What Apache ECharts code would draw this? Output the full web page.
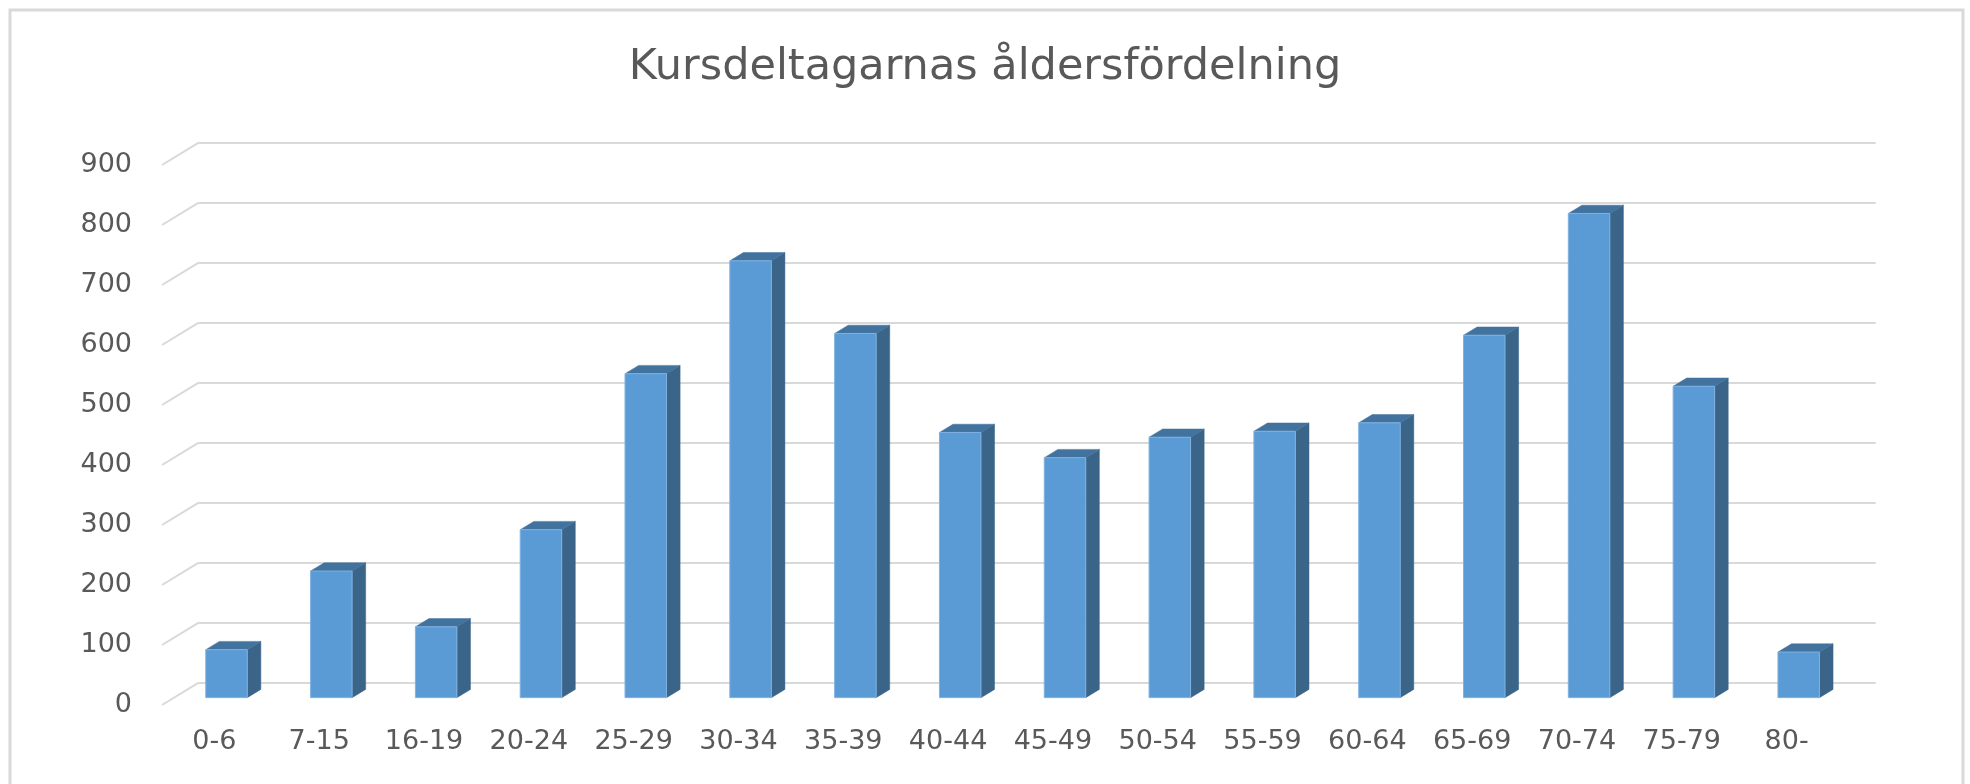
<!DOCTYPE html>
<html>
<head>
<meta charset="utf-8">
<script src="https://cdn.jsdelivr.net/npm/echarts@6/dist/echarts.min.js"></script>
<style>html,body{margin:0;padding:0;background:#fff}#c{width:1970px;height:784px}</style>
</head>
<body>
<div id="c"></div>
<script>
const chartTitle = 'Kursdeltagarnas åldersfördelning';
const categories = ['0-6','7-15','16-19','20-24','25-29','30-34','35-39','40-44','45-49','50-54','55-59','60-64','65-69','70-74','75-79','80-'];
const values = [80, 211, 118, 280, 540, 728, 607, 442, 400, 434, 444, 458, 604, 807, 519, 76];
const yTicks = [0, 100, 200, 300, 400, 500, 600, 700, 800, 900];

const FONT = 'DejaVu Sans';
const TXT = '#595959';
const GRID = '#d9d9d9';
// oblique depth of the floor (front edge -> back wall), in px
const DEPTH_DX = 36.7, DEPTH_DY = -22.3;
const BAR_FRONT = 0.33, BAR_BACK = 0.70;

const chart = echarts.init(document.getElementById('c'), null, {renderer: 'canvas'});

const option = {
  backgroundColor: '#fff',
  animation: false,
  title: {
    text: chartTitle, left: 'center', top: 41,
    textStyle: {fontFamily: FONT, fontSize: 43, fontWeight: 'normal', color: TXT}
  },
  graphic: [{
    type: 'rect', silent: true, z: -10,
    shape: {x: 10, y: 10, width: 1953, height: 780},
    style: {fill: null, stroke: GRID, lineWidth: 3}
  }],
  grid: [
    {left: 162, top: 165, width: 1677, height: 540},
    {left: 162 + DEPTH_DX, top: 165 + DEPTH_DY, width: 1677, height: 540}
  ],
  xAxis: [
    {gridIndex: 0, type: 'category', data: categories,
     axisLine: {show: false}, axisTick: {show: false}, splitLine: {show: false},
     axisLabel: {interval: 0, margin: 23, color: TXT, fontFamily: FONT, fontSize: 27}},
    {gridIndex: 1, type: 'category', data: categories, show: false}
  ],
  yAxis: [
    {gridIndex: 0, type: 'value', min: 0, max: 900, interval: 100,
     axisLine: {show: false}, axisTick: {show: false}, splitLine: {show: false},
     axisLabel: {margin: 30, color: TXT, fontFamily: FONT, fontSize: 27}},
    {gridIndex: 1, type: 'value', min: 0, max: 900, interval: 100,
     axisLine: {show: false}, axisTick: {show: false}, axisLabel: {show: false},
     splitLine: {show: true, lineStyle: {color: GRID, width: 2}}}
  ],
  series: [
    {
      type: 'custom', xAxisIndex: 0, yAxisIndex: 0, silent: true, z: 1,
      data: yTicks.map(v => [0, v]),
      encode: {x: 0, y: 1},
      renderItem: function (params, api) {
        const p = api.coord([api.value(0), api.value(1)]);
        const band = api.size([1, 0])[0];
        const x0 = p[0] - band / 2;
        return {
          type: 'line',
          shape: {x1: x0, y1: p[1], x2: x0 + DEPTH_DX, y2: p[1] + DEPTH_DY},
          style: {stroke: GRID, lineWidth: 2}
        };
      }
    },
    {
      type: 'custom', xAxisIndex: 0, yAxisIndex: 0, z: 5,
      data: values.map((v, i) => [i, v]),
      encode: {x: 0, y: 1},
      renderItem: function (params, api) {
        const base = api.coord([api.value(0), 0]);
        const top = api.coord([api.value(0), api.value(1)]);
        const band = api.size([1, 0])[0];
        const w = band * 0.396;
        const ox = DEPTH_DX * BAR_FRONT, oy = DEPTH_DY * BAR_FRONT;
        const dx = DEPTH_DX * (BAR_BACK - BAR_FRONT), dy = DEPTH_DY * (BAR_BACK - BAR_FRONT);
        const cx = base[0] + ox;
        const x0 = cx - w / 2, x1 = cx + w / 2;
        const yb = base[1] + oy, yt = top[1] + oy;
        return {
          type: 'group',
          children: [
            {type: 'polygon', shape: {points: [[x1, yb], [x1 + dx, yb + dy], [x1 + dx, yt + dy], [x1, yt]]},
             style: {fill: '#3A6488', stroke: '#3A6488', lineWidth: 0.5}},
            {type: 'polygon', shape: {points: [[x0, yt], [x1, yt], [x1 + dx, yt + dy], [x0 + dx, yt + dy]]},
             style: {fill: '#42729E', stroke: '#42729E', lineWidth: 0.5}},
            {type: 'polygon', shape: {points: [[x0, yb], [x1, yb], [x1, yt], [x0, yt]]},
             style: {fill: '#5B9BD5', stroke: '#7FB2E2', lineWidth: 1}}
          ]
        };
      }
    }
  ]
};
chart.setOption(option);
</script>
</body>
</html>
